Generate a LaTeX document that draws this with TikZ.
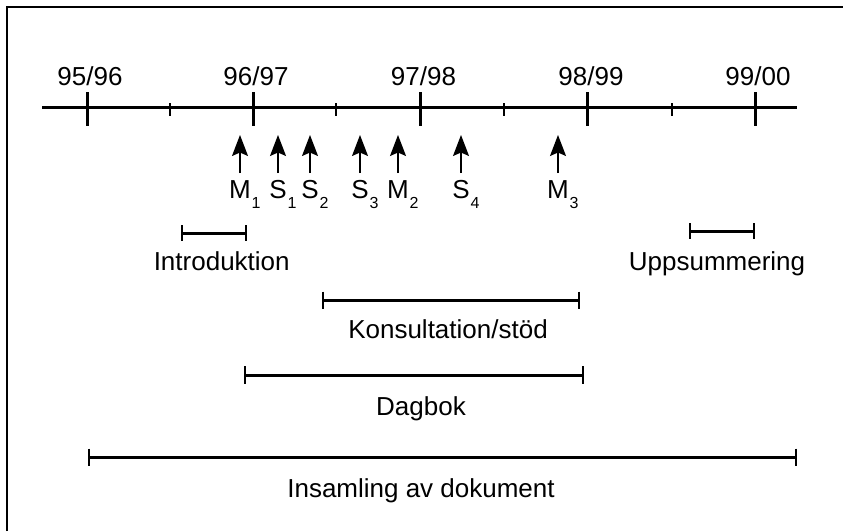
\documentclass[tikz,border=0pt]{standalone}
\usepackage{fontspec}
\setmainfont{Liberation Sans}
\usetikzlibrary{arrows.meta}
\begin{document}
\begin{tikzpicture}[x=1pt,y=-1pt,
  lbl/.style={font=\fontsize{26}{31}\selectfont, anchor=base, inner sep=0pt},
  sublbl/.style={font=\fontsize{16}{19}\selectfont, anchor=base west, inner sep=0pt},
  axisline/.style={line width=3pt},
  majortick/.style={line width=3pt},
  minortick/.style={line width=1.5pt},
  barline/.style={line width=3pt},
  barend/.style={line width=1.5pt},
  evt/.style={line width=1.3pt, -{Stealth[length=21pt,width=16pt,inset=3.5pt]}},
]
\useasboundingbox (0,0) rectangle (843,531);
% frame (top and left only)
\coordinate (fBL) at (7,531);
\coordinate (fTL) at (7,7);
\coordinate (fTR) at (843,7);
\draw[line width=2pt] (fBL) -- (fTL) -- (fTR);

% axis
\coordinate (axL) at (42,107);
\coordinate (axR) at (797,107);
\draw[axisline] (axL) -- (axR);
\foreach \x in {87,253,420,587,755}{
  \coordinate (mt\x a) at (\x,92);
  \coordinate (mt\x b) at (\x,126);
  \draw[majortick] (mt\x a) -- (mt\x b);
}
\foreach \x in {170,336,504,672}{
  \coordinate (nt\x a) at (\x,103);
  \coordinate (nt\x b) at (\x,116);
  \draw[minortick] (nt\x a) -- (nt\x b);
}
\node[lbl] (y1) at (90,85) {95/96};
\node[lbl] (y2) at (256,85) {96/97};
\node[lbl] (y3) at (423.5,85) {97/98};
\node[lbl] (y4) at (591,85) {98/99};
\node[lbl] (y5) at (758,85) {99/00};

% events
\foreach \x/\m/\s/\n in {240/M/1/ma, 278/S/1/sa, 310/S/2/sb, 360/S/3/sc, 398/M/2/mb, 461/S/4/sd, 558/M/3/mc}{
  \coordinate (\n top) at (\x,135);
  \coordinate (\n bot) at (\x,173);
  \draw[evt] (\n bot) -- (\n top);
  \node[lbl] (\n) at (\x,198) {\m};
  \node[sublbl] (\n sub) at ([yshift=-10pt,xshift=0.5pt]\n.base east) {\s};
}

% phase bars
\foreach \n/\a/\b/\y/\h in {intro/182/246/233/8, upps/690/754/231/8, kons/323/579/300/8.5, dag/245/583/375/9, ins/89/796/457/8.5}{
  \coordinate (\n L) at (\a,\y);
  \coordinate (\n R) at (\b,\y);
  \draw[barline] (\n L) -- (\n R);
  \draw[barend] ([yshift=\h pt]\n L) -- ([yshift=-\h pt]\n L);
  \draw[barend] ([yshift=\h pt]\n R) -- ([yshift=-\h pt]\n R);
}
\node[lbl] (tintro) at (221.7,270) {Introduktion};
\node[lbl] (tupps) at (717,270) {Uppsummering};
\node[lbl] (tkons) at (448,338) {Konsultation/stöd};
\node[lbl] (tdag) at (421,415) {Dagbok};
\node[lbl] (tins) at (421,497) {Insamling av dokument};
\end{tikzpicture}
\end{document}
